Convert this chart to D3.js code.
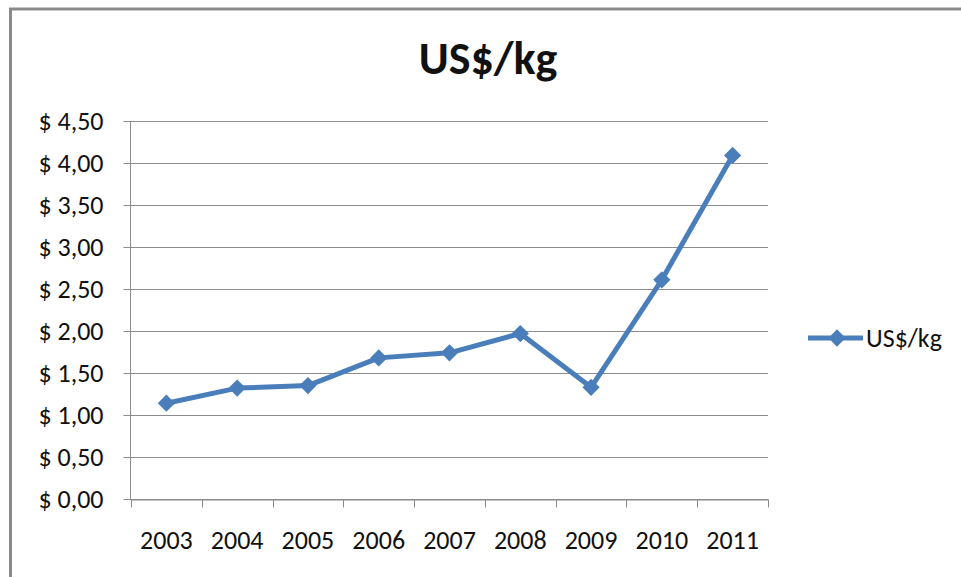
<!DOCTYPE html>
<html>
<head>
<meta charset="utf-8">
<script src="https://cdn.jsdelivr.net/npm/d3@7"></script>
<style>
  body { margin: 0; background: #fff; }
  text { font-family: Carlito, Lato, "Open Sans", sans-serif; fill: #111; }
</style>
</head>
<body>
<div id="chart"></div>
<script>
const years = ["2003", "2004", "2005", "2006", "2007", "2008", "2009", "2010", "2011"];
const prices = [1.14, 1.32, 1.35, 1.68, 1.74, 1.97, 1.33, 2.61, 4.09];
const yTicks = [0, 0.5, 1, 1.5, 2, 2.5, 3, 3.5, 4, 4.5];
const seriesName = "US$/kg";

const width = 961,
  height = 577;
const margin = { left: 131, right: 193, top: 121, bottom: 78 };
const blue = "#4a7ebb";

const svg = d3
  .select("#chart")
  .append("svg")
  .attr("width", width)
  .attr("height", height);

// outer chart frame (cut off at right and bottom)
svg
  .append("rect")
  .attr("x", 10.5)
  .attr("y", 9)
  .attr("width", 1000)
  .attr("height", 1000)
  .attr("fill", "none")
  .attr("stroke", "#8a8a8a")
  .attr("stroke-width", 3);

const x = d3
  .scaleBand()
  .domain(years)
  .range([margin.left, width - margin.right]);

const y = d3
  .scaleLinear()
  .domain([0, 4.5])
  .range([height - margin.bottom, margin.top]);

// gridlines
svg
  .append("g")
  .selectAll("line")
  .data(yTicks)
  .enter()
  .append("line")
  .attr("x1", margin.left - 7)
  .attr("x2", width - margin.right)
  .attr("y1", (d) => Math.round(y(d)) + 0.5)
  .attr("y2", (d) => Math.round(y(d)) + 0.5)
  .attr("stroke", "#8c8c8c")
  .attr("stroke-width", 1);

// y axis
const yAxis = svg
  .append("g")
  .attr("transform", `translate(${margin.left - 0.5},0)`)
  .call(
    d3
      .axisLeft(y)
      .tickValues(yTicks)
      .tickSize(7)
      .tickPadding(20)
      .tickFormat((d) => "$ " + d3.format(".2f")(d).replace(".", ","))
  );
yAxis.select(".domain").attr("stroke", "#8c8c8c").attr("d", `M0,${y(4.5)}V${y(0)}`);
yAxis.selectAll(".tick line").attr("stroke", "#8c8c8c");
yAxis.selectAll("text").style("font-size", "26px").attr("dy", "0.33em");

// x axis with ticks at category boundaries
const xAxis = svg
  .append("g")
  .attr("transform", `translate(0,${Math.round(y(0)) + 0.5})`)
  .call(d3.axisBottom(x).tickSize(0).tickPadding(31));
xAxis.select(".domain").attr("stroke", "#8c8c8c");
xAxis.selectAll("text").style("font-size", "26px");
const bounds = years.map((d) => x(d)).concat([x(years[years.length - 1]) + x.bandwidth()]);
xAxis
  .append("g")
  .selectAll("line")
  .data(bounds)
  .enter()
  .append("line")
  .attr("x1", (d) => Math.round(d) + 0.5)
  .attr("x2", (d) => Math.round(d) + 0.5)
  .attr("y1", 0)
  .attr("y2", 8)
  .attr("stroke", "#8c8c8c");

// title
svg
  .append("text")
  .attr("x", 488)
  .attr("y", 74)
  .attr("text-anchor", "middle")
  .style("font-size", "46px")
  .style("font-weight", "bold")
  .text(seriesName);

// series line
const line = d3
  .line()
  .x((d, i) => x(years[i]) + x.bandwidth() / 2)
  .y((d) => y(d));

svg
  .append("path")
  .datum(prices)
  .attr("d", line)
  .attr("fill", "none")
  .attr("stroke", blue)
  .attr("stroke-width", 5)
  .attr("stroke-linejoin", "round");

const diamond = d3.symbol().type(d3.symbolDiamond2).size(190);

svg
  .append("g")
  .selectAll("path")
  .data(prices)
  .enter()
  .append("path")
  .attr("d", diamond)
  .attr("transform", (d, i) => `translate(${x(years[i]) + x.bandwidth() / 2},${y(d)})`)
  .attr("fill", blue);

// legend
const legend = svg.append("g").attr("transform", "translate(808,338)");
legend
  .append("line")
  .attr("x1", 0)
  .attr("x2", 55)
  .attr("stroke", blue)
  .attr("stroke-width", 5);
legend
  .append("path")
  .attr("d", diamond)
  .attr("transform", "translate(29,0)")
  .attr("fill", blue);
legend
  .append("text")
  .attr("x", 58)
  .attr("dy", "0.33em")
  .style("font-size", "26px")
  .text(seriesName);
</script>
</body>
</html>
